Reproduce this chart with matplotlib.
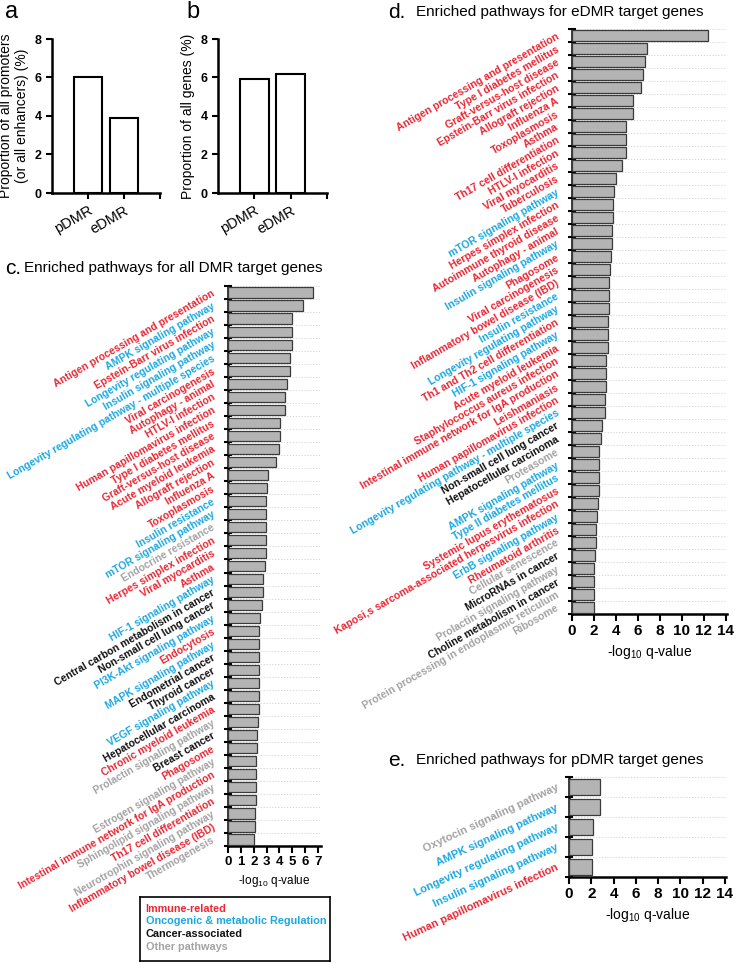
'''
DMR proportions and enriched pathways (panels a-e)
'''

import numpy as np
import matplotlib
matplotlib.use('Agg')
import matplotlib.pyplot as plt

plt.rcParams['font.family'] = ['Liberation Sans', 'DejaVu Sans']
plt.rcParams['mathtext.fontset'] = 'custom'
plt.rcParams['mathtext.rm'] = 'Liberation Sans'

W, H = 748, 963

# panel a / b
dmr_types = ['pDMR', 'eDMR']
prom_enh_pct = [6.0, 3.9]
genes_pct = [5.9, 6.2]

# group codes: I immune, O oncogenic/metabolic, C cancer, X other
colors = {'I': '#ec2633', 'O': '#1ba8e2', 'C': '#111111', 'X': '#a3a3a3'}

# panel c: all DMR
all_names = ['Antigen processing and presentation', 'AMPK signaling pathway',
             'Epstein-Barr virus infection', 'Longevity regulating pathway',
             'Insulin signaling pathway', 'Longevity regulating pathway - multiple species',
             'Viral carcinogenesis', 'Autophagy - animal', 'HTLV-I infection',
             'Human papillomavirus infection', 'Type I diabetes mellitus',
             'Graft-versus-host disease', 'Acute myeloid leukemia', 'Allograft rejection',
             'Influenza A', 'Toxoplasmosis', 'Insulin resistance', 'mTOR signaling pathway',
             'Endocrine resistance', 'Herpes simplex infection', 'Viral myocarditis',
             'Asthma', 'HIF-1 signaling pathway', 'Central carbon metabolism in cancer',
             'Non-small cell lung cancer', 'PI3K-Akt signaling pathway', 'Endocytosis',
             'MAPK signaling pathway', 'Endometrial cancer', 'Thyroid cancer',
             'VEGF signaling pathway', 'Hepatocellular carcinoma', 'Chronic myeloid leukemia',
             'Prolactin signaling pathway', 'Breast cancer', 'Phagosome',
             'Estrogen signaling pathway', 'Intestinal immune network for IgA production',
             'Sphingolipid signaling pathway', 'Th17 cell differentiation',
             'Neurotrophin signaling pathway', 'Inflammatory bowel disease (IBD)',
             'Thermogenesis']
all_vals = [6.6, 5.8, 4.98, 4.98, 4.98, 4.85, 4.85, 4.57, 4.47, 4.47, 4.06, 4.06, 4.0,
            3.72, 3.13, 3.0, 2.98, 2.98, 2.98, 2.98, 2.98, 2.85, 2.69, 2.69, 2.64, 2.5,
            2.43, 2.43, 2.38, 2.38, 2.38, 2.38, 2.38, 2.33, 2.28, 2.22, 2.2, 2.17, 2.17,
            2.15, 2.13, 2.13, 2.04]
all_grp = list('IOIOOOIIIIIIIIIIOOXIIIOCCOIOCCOCIXCIXIXIXIX')

# panel d: eDMR
e_names = ['Antigen processing and presentation', 'Type I diabetes mellitus',
           'Graft-versus-host disease', 'Epstein-Barr virus infection', 'Allograft rejection',
           'Influenza A', 'Toxoplasmosis', 'Asthma', 'Th17 cell differentiation',
           'HTLV-I infection', 'Viral myocarditis', 'Tuberculosis', 'mTOR signaling pathway',
           'Herpes simplex infection', 'Autoimmune thyroid disease', 'Autophagy - animal',
           'Insulin signaling pathway', 'Phagosome', 'Viral carcinogenesis',
           'Inflammatory bowel disease (IBD)', 'Insulin resistance',
           'Longevity regulating pathway', 'Th1 and Th2 cell differentiation',
           'HIF-1 signaling pathway', 'Acute myeloid leukemia',
           'Staphylococcus aureus infection', 'Intestinal immune network for IgA production',
           'Leishmaniasis', 'Human papillomavirus infection',
           'Longevity regulating pathway - multiple species', 'Non-small cell lung cancer',
           'Hepatocellular carcinoma', 'Proteasome', 'AMPK signaling pathway',
           'Type II diabetes mellitus', 'Systemic lupus erythematosus',
           'Kaposi,s sarcoma-associated herpesvirus infection', 'ErbB signaling pathway',
           'Rheumatoid arthritis', 'Cellular senescence', 'MicroRNAs in cancer',
           'Prolactin signaling pathway', 'Choline metabolism in cancer',
           'Protein processing in endoplasmic reticulum', 'Ribosome']
e_vals = [12.4, 6.8, 6.67, 6.48, 6.27, 5.52, 5.52, 4.88, 4.88, 4.88, 4.52, 4.03, 3.85,
          3.76, 3.76, 3.64, 3.62, 3.58, 3.5, 3.4, 3.37, 3.37, 3.3, 3.27, 3.24, 3.12, 3.06,
          3.06, 3.03, 3.03, 2.73, 2.64, 2.45, 2.42, 2.42, 2.42, 2.33, 2.27, 2.18, 2.18, 2.12,
          2.03, 2.03, 2.0, 2.0]
e_grp = list('IIIIIIIIIIIIOIIIOIIIOOIOIIIIIOCCXOOIIOIXCXCXX')

# panel e: pDMR
p_names = ['Oxytocin signaling pathway', 'AMPK signaling pathway',
           'Longevity regulating pathway', 'Insulin signaling pathway',
           'Human papillomavirus infection']
p_vals = [2.8, 2.8, 2.2, 2.05, 2.05]
p_grp = ['X', 'O', 'O', 'O', 'I']

legend_items = [('Immune-related', 'I'), ('Oncogenic & metabolic Regulation', 'O'),
                ('Cancer-associated', 'C'), ('Other pathways', 'X')]

xlab = r'-log$_{\mathregular{10}}$ q-value'


def px_axes(x0, y0, x1, y1):
    return fig.add_axes([x0/W, 1-y1/H, (x1-x0)/W, (y1-y0)/H])


def style_axes(ax):
    for s in ['top', 'right']:
        ax.spines[s].set_visible(False)
    for s in ['left', 'bottom']:
        ax.spines[s].set_linewidth(1.8)


def bar_panel(ax, vals, ylabel):
    ax.bar([0, 1], vals, width=0.8, color='white', edgecolor='black', lw=1.5)
    ax.set_xlim(-1, 2)
    ax.set_ylim(0, 8)
    ax.set_yticks([0, 2, 4, 6, 8])
    ax.set_yticklabels(['0', '2', '4', '6', '8'], fontweight='bold', fontsize=9)
    ax.set_xticks([0, 1])
    ax.set_xticklabels(dmr_types, rotation=30, ha='right', rotation_mode='anchor', fontsize=10.5)
    ax.set_xticks([2], minor=True)
    ax.tick_params(which='both', length=4, width=1.5)
    ax.set_ylabel(ylabel, fontsize=10, labelpad=4)
    style_axes(ax)


def pathway_panel(ax, names, vals, grp, xmax, xticks, fs_lab, rot, fs_tick, pad):
    n = len(names)
    y = np.arange(n)
    ax.barh(y, vals, height=0.78, color='#b4b4b4', edgecolor='#3a3a3a', lw=0.9, zorder=3)
    ax.set_ylim(n-0.5, -0.5)
    ax.set_xlim(0, xmax)
    ax.set_yticks(y)
    ax.set_yticklabels(names, rotation=rot, ha='right', va='center',
                       rotation_mode='anchor', fontsize=fs_lab, fontweight='bold')
    for t, g in zip(ax.get_yticklabels(), grp):
        t.set_color(colors[g])
    ax.set_yticks(np.arange(n+1)-0.5, minor=True)
    ax.tick_params(axis='y', which='major', length=0, pad=pad)
    ax.tick_params(axis='y', which='minor', length=6, width=1.5, direction='inout')
    ax.grid(axis='y', which='minor', ls=(0, (1.5, 2)), color='#d0d0d0', lw=0.6, zorder=0)
    ax.set_xticks(xticks)
    ax.set_xticklabels([str(v) for v in xticks], fontweight='bold', fontsize=fs_tick)
    ax.tick_params(axis='x', length=5, width=1.5, pad=2)
    ax.set_xlabel(xlab, fontsize=fs_tick-1, labelpad=4)
    style_axes(ax)


fig = plt.figure(figsize=(W/100, H/100), dpi=100)

ax = px_axes(52, 39, 160, 193)
bar_panel(ax, prom_enh_pct, 'Proportion of all promoters\n(or all enhancers) (%)')
ax = px_axes(218, 39, 327, 193)
bar_panel(ax, genes_pct, 'Proportion of all genes (%)')

ax = px_axes(228, 286, 228+7.25*12.86, 846)
pathway_panel(ax, all_names, all_vals, all_grp, 7.25, list(range(8)), 7.5, 30, 9.5, 10)

ax = px_axes(572, 29, 727, 614)
pathway_panel(ax, e_names, e_vals, e_grp, 14.1, list(range(0, 15, 2)), 7.6, 30, 11, 10)

ax = px_axes(569, 777, 726, 877)
pathway_panel(ax, p_names, p_vals, p_grp, 14.1, list(range(0, 15, 2)), 8.0, 25, 11, 8)

fig.text(5/W, 1-12/H, 'a', fontsize=17, va='center')
fig.text(186/W, 1-12/H, 'b', fontsize=17, va='center')
fig.text(5/W, 1-268/H, 'c.', fontsize=15, va='center')
fig.text(24/W, 1-268/H, 'Enriched pathways for all DMR target genes', fontsize=11, va='center')
fig.text(388/W, 1-12/H, 'd.', fontsize=15, va='center')
fig.text(416/W, 1-12/H, 'Enriched pathways for eDMR target genes', fontsize=11, va='center')
fig.text(388/W, 1-760/H, 'e.', fontsize=15, va='center')
fig.text(416/W, 1-760/H, 'Enriched pathways for pDMR target genes', fontsize=11, va='center')

lax = px_axes(140, 897, 330, 961)
lax.set_xticks([])
lax.set_yticks([])
for s in lax.spines.values():
    s.set_linewidth(1.2)
for i, (txt, g) in enumerate(legend_items):
    lax.text(0.03, 0.82 - i*0.2, txt, color=colors[g], fontweight='bold', fontsize=7.8,
             transform=lax.transAxes, va='center')

plt.savefig('out.png', dpi=100)
